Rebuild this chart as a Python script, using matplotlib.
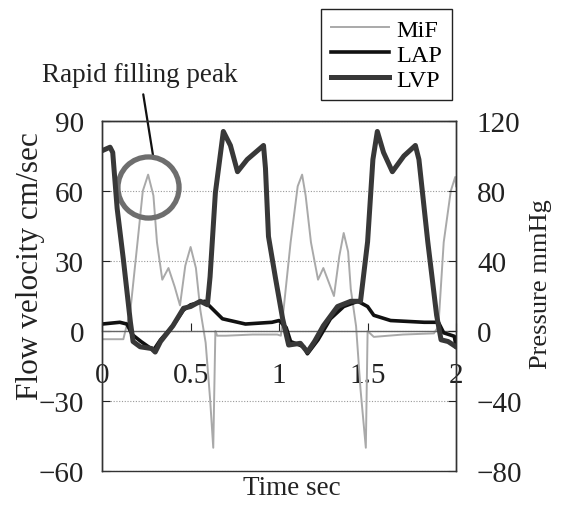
import matplotlib
matplotlib.use('Agg')
import matplotlib.pyplot as plt

plt.rcParams['font.family'] = 'Liberation Serif'

# mitral inflow velocity (cm/sec), left axis
mif_t = [0.0, 0.12, 0.16, 0.20, 0.23, 0.26, 0.29, 0.31, 0.34, 0.375, 0.41, 0.44, 0.47, 0.50, 0.53,
         0.555, 0.585, 0.61, 0.628, 0.64, 0.65, 0.70, 0.85, 0.99, 1.01, 1.025, 1.065, 1.105, 1.13,
         1.15, 1.18, 1.22, 1.25, 1.28, 1.31, 1.34, 1.365, 1.39, 1.405, 1.435, 1.46, 1.49, 1.50,
         1.535, 1.70, 1.875, 1.90, 1.93, 1.97, 1.995, 2.0]
mif_v = [-3.5, -3.5, 9, 38, 60, 67, 58, 38, 22, 27, 19, 11, 28, 36, 27,
         9, -5, -29, -50, 0, -2, -2, -1.5, -1.5, -2, 9, 38, 62, 67,
         58, 38, 22, 27, 21, 15, 32, 42, 34, 18, 2, -25, -50, 0,
         -2.5, -1.5, -1, 2, 38, 60, 66, 62]

# left atrial pressure (mmHg), right axis
lap_t = [0.0, 0.10, 0.14, 0.17, 0.22, 0.29, 0.33, 0.40, 0.46, 0.50, 0.58, 0.64, 0.68, 0.81, 0.96,
         1.0, 1.04, 1.065, 1.14, 1.16, 1.22, 1.29, 1.365, 1.445, 1.50, 1.535, 1.63, 1.82, 1.90,
         1.93, 1.99, 2.0]
lap_p = [4, 5, 4, -2, -6, -11, -5, 3, 12, 15, 17, 11, 7, 4, 5,
         6, 2, -6, -9, -13, -5, 7, 14, 17, 14, 9, 6, 5, 5,
         -1, -3, -9]

# left ventricular pressure (mmHg), right axis
lvp_t = [0.0, 0.045, 0.06, 0.085, 0.12, 0.16, 0.175, 0.215, 0.28, 0.30, 0.33, 0.40, 0.46, 0.50,
         0.555, 0.595, 0.61, 0.64, 0.685, 0.725, 0.765, 0.82, 0.912, 0.923, 0.94, 0.98, 1.02,
         1.054, 1.12, 1.16, 1.20, 1.25, 1.33, 1.405, 1.46, 1.50, 1.53, 1.555, 1.59, 1.64, 1.705,
         1.77, 1.79, 1.84, 1.89, 1.915, 1.955, 2.0]
lvp_p = [103, 105, 102, 70, 41, 5, -6, -9, -10, -12, -6, 3, 13, 14,
         17, 15, 31, 79, 114, 106, 91, 98, 106, 93, 54, 30, 7,
         -8, -7, -12, -6, 3, 14, 17, 17, 51, 98, 114, 102, 91, 100,
         106, 98, 51, 9, -5, -6, -9]

time_ticks = [0, 0.5, 1, 1.5, 2]
time_labels = ['0', '0.5', '1', '1.5', '2']
flow_ticks = [-60, -30, 0, 30, 60, 90]
press_ticks = [-80, -40, 0, 40, 80, 120]

# where the rapid filling peak is circled
peak_t, peak_v = 0.26, 61.5

fig = plt.figure(figsize=(5.61, 5.06), dpi=100)
ax = fig.add_axes([0.182, 0.067, 0.631, 0.692])
ax2 = ax.twinx()

l1, = ax.plot(mif_t, mif_v, color='#a9a9a9', lw=1.4, label='MiF')
l2, = ax2.plot(lap_t, lap_p, color='#111111', lw=2.6, label='LAP')
l3, = ax2.plot(lvp_t, lvp_p, color='#383838', lw=3.6, label='LVP')

ax.set_xlim(0, 2)
ax.set_ylim(-60, 90)
ax2.set_ylim(-80, 120)
ax.set_xticks(time_ticks)
ax.set_xticklabels(time_labels)
ax.set_yticks(flow_ticks)
ax2.set_yticks(press_ticks)

for a in (ax, ax2):
    for s in a.spines.values():
        s.set_color('#333333')
        s.set_linewidth(1.0)
ax.spines['bottom'].set_position(('data', 0))
ax.spines['bottom'].set_color('#666666')

ax.grid(axis='y', linestyle=(0, (1, 1.5)), color='#999999', lw=0.8)
ax.tick_params(axis='x', direction='in', length=6, pad=22, labelsize=21, colors='#222222')
ax.tick_params(axis='y', direction='in', length=6, pad=13, labelsize=21, colors='#222222')
ax2.tick_params(axis='y', direction='in', length=6, pad=15, labelsize=21, colors='#222222')

ax.set_xlabel('Time sec', fontsize=19.5, color='#222222')
ax.xaxis.set_label_coords(0.537, -0.012)
ax.set_ylabel('Flow velocity cm/sec', fontsize=22.5, color='#222222')
ax.yaxis.set_label_coords(-0.161, 0.589)
ax2.set_ylabel('Pressure mmHg', fontsize=19, color='#222222')
ax2.yaxis.set_label_coords(1.21, 0.537)

# circle around the rapid filling peak
ax.plot([peak_t], [peak_v], marker='o', ms=44, mfc='none', mec='#6e6e6e', mew=3.8,
        clip_on=False, zorder=5)
ax.annotate('Rapid filling peak', xy=(0.289, 74.6), xytext=(0.215, 109.7),
            ha='center', va='center', fontsize=19.5, color='#222222',
            arrowprops=dict(arrowstyle='-', color='#111111', lw=1.6, shrinkA=3, shrinkB=0),
            annotation_clip=False)

fig.legend([l1, l2, l3], ['MiF', 'LAP', 'LVP'], loc='upper right',
           bbox_to_anchor=(452 / 561, 1 - 10 / 506), bbox_transform=fig.transFigure,
           fancybox=False, edgecolor='#222222', framealpha=1, fontsize=17.5,
           handlelength=2.4, borderpad=0.4, labelspacing=0.12, handletextpad=0.3,
           borderaxespad=0)

fig.savefig('out.png', dpi=100)
